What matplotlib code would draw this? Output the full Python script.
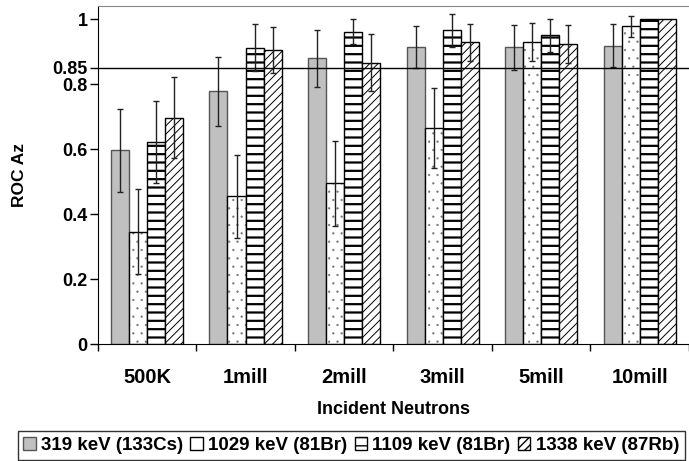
import matplotlib
matplotlib.use("Agg")
import matplotlib.pyplot as plt
from matplotlib.patches import Patch
import numpy as np

plt.rcParams["font.family"] = ["Liberation Sans", "DejaVu Sans"]
plt.rcParams["font.weight"] = "bold"

# ROC Az per incident neutron count, one series per gamma line
groups = ["500K", "1mill", "2mill", "3mill", "5mill", "10mill"]
series = ["319 keV (133Cs)", "1029 keV (81Br)", "1109 keV (81Br)", "1338 keV (87Rb)"]

az_319 = [0.596, 0.777, 0.879, 0.914, 0.913, 0.918]
err_319 = [0.127, 0.105, 0.087, 0.064, 0.070, 0.067]
az_1029 = [0.345, 0.454, 0.494, 0.664, 0.930, 0.978]
err_1029 = [0.131, 0.127, 0.130, 0.123, 0.059, 0.032]
az_1109 = [0.621, 0.912, 0.961, 0.965, 0.950, 1.0]
err_1109 = [0.126, 0.072, 0.039, 0.050, 0.050, 0.0]
az_1338 = [0.696, 0.905, 0.866, 0.928, 0.922, 1.0]
err_1338 = [0.125, 0.071, 0.088, 0.057, 0.058, 0.0]

threshold = 0.85
yticks = [0, 0.2, 0.4, 0.6, 0.8, 0.85, 1]

W, H = 689, 461
fig = plt.figure(figsize=(W / 100, H / 100), dpi=100)
ax = fig.add_axes([97.7 / W, (H - 344) / H, (W - 97.7) / W, (344 - 6) / H])

x = np.arange(len(groups))
width = 0.183
# hatch colour (hc) can differ from the outline colour
styles = [
    dict(facecolor="#c0c0c0", edgecolor="#555555", hc="#555555", hatch=None, hlw=1.0),
    dict(facecolor="white", edgecolor="black", hc="#777777", hatch="..", hlw=0.4),
    dict(facecolor="white", edgecolor="black", hc="black", hatch="--", hlw=1.6),
    dict(facecolor="white", edgecolor="black", hc="black", hatch="////", hlw=0.7),
]
values = [az_319, az_1029, az_1109, az_1338]
errors = [err_319, err_1029, err_1109, err_1338]

handles = []
for k, (vals, errs, st, name) in enumerate(zip(values, errors, styles, series)):
    pos = x + (k - 1.5) * width
    with plt.rc_context({"hatch.linewidth": st["hlw"]}):
        ax.bar(pos, vals, width, facecolor=st["facecolor"], edgecolor=st["hc"],
               hatch=st["hatch"], linewidth=0, zorder=2)
    ax.bar(pos, vals, width, fill=False, edgecolor=st["edgecolor"], linewidth=1.0, zorder=2)
    errs = np.asarray(errs)
    keep = errs > 0
    ax.errorbar(pos[keep], np.asarray(vals)[keep], yerr=errs[keep], fmt="none",
                ecolor="#222222", elinewidth=1.0, capsize=2.2, capthick=1.0, zorder=3)
    legend_hatch = None if st["hatch"] == ".." else st["hatch"]
    with plt.rc_context({"hatch.linewidth": st["hlw"]}):
        handles.append(Patch(facecolor=st["facecolor"], edgecolor=st["edgecolor"],
                             hatch=legend_hatch, linewidth=1.0, label=name))

ax.axhline(threshold, color="black", lw=1.0, zorder=4)

ax.set_xlim(-0.5, -0.5 + (W - 97.7) / 100.1)
ax.set_ylim(0, 1.04)

ax.set_yticks(yticks)
ax.set_yticklabels(["0", "0.2", "0.4", "0.6", "0.8", "0.85", "1"])
ax.tick_params(axis="y", direction="out", length=5.5, width=1, pad=1.8, labelsize=13)

ax.set_xticks(x)
ax.set_xticklabels(groups)
ax.set_xticks(np.arange(-0.5, len(groups), 1.0), minor=True)
ax.tick_params(axis="x", which="major", length=0, pad=17, labelsize=14.5)
ax.tick_params(axis="x", which="minor", direction="out", length=5, width=1)

for lab in ax.get_xticklabels() + ax.get_yticklabels():
    lab.set_fontweight("bold")

ax.spines["right"].set_visible(False)
ax.spines["top"].set_color("#888888")
ax.spines["left"].set_color("black")
ax.spines["bottom"].set_color("black")

ax.set_xlabel("Incident Neutrons", fontsize=13, fontweight="bold", labelpad=10)
ax.set_ylabel("ROC Az", fontsize=12.5, fontweight="bold", labelpad=18)

leg = ax.legend(handles=handles, loc="center", bbox_to_anchor=(351 / W, 1 - 445.5 / H),
                bbox_transform=fig.transFigure, ncol=4, frameon=True, fancybox=False,
                edgecolor="black", fontsize=13.5, handlelength=0.66, handleheight=0.7,
                handletextpad=0.28, columnspacing=0.4, borderpad=0.3)
leg.get_frame().set_linewidth(1.0)
for t in leg.get_texts():
    t.set_fontweight("bold")

fig.savefig("out.png", dpi=100)
